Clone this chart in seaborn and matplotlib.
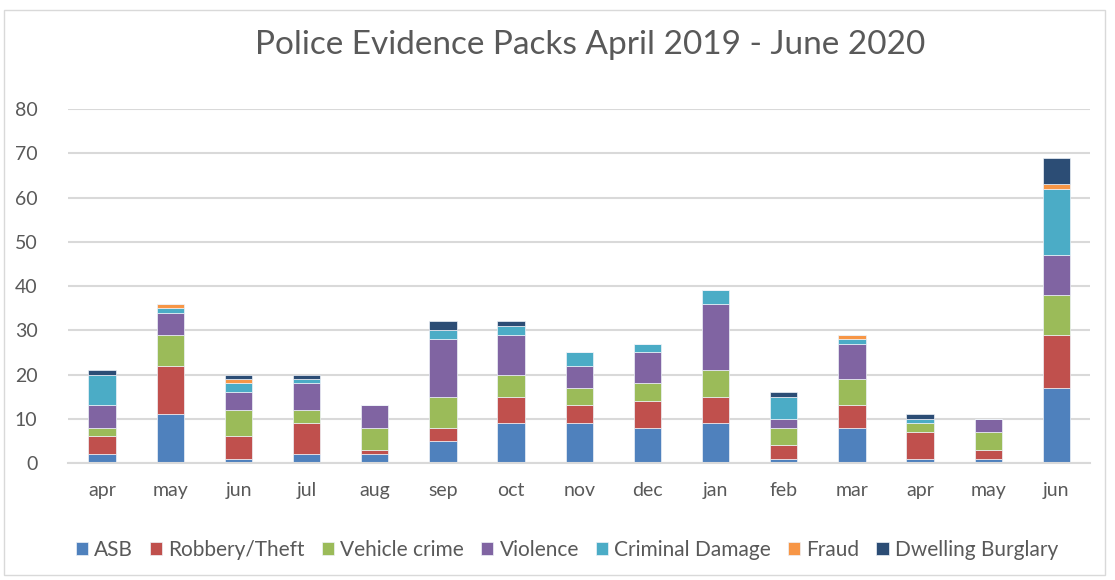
import numpy as np
import pandas as pd
import matplotlib
matplotlib.use("Agg")
import matplotlib.pyplot as plt
import seaborn as sns
from matplotlib.patches import Rectangle

# dati
months = ["apr", "may", "jun", "jul", "aug", "sep", "oct", "nov",
          "dec", "jan", "feb", "mar", "apr", "may", "jun"]
asb = [2, 11, 1, 2, 2, 5, 9, 9, 8, 9, 1, 8, 1, 1, 17]
robbery = [4, 11, 5, 7, 1, 3, 6, 4, 6, 6, 3, 5, 6, 2, 12]
vehicle = [2, 7, 6, 3, 5, 7, 5, 4, 4, 6, 4, 6, 2, 4, 9]
violence = [5, 5, 4, 6, 5, 13, 9, 5, 7, 15, 2, 8, 0, 3, 9]
criminal_damage = [7, 1, 2, 1, 0, 2, 2, 3, 2, 3, 5, 1, 1, 0, 15]
fraud = [0, 1, 1, 0, 0, 0, 0, 0, 0, 0, 0, 1, 0, 0, 1]
burglary = [1, 0, 1, 1, 0, 2, 1, 0, 0, 0, 1, 0, 1, 0, 6]

series = ["ASB", "Robbery/Theft", "Vehicle crime", "Violence",
          "Criminal Damage", "Fraud", "Dwelling Burglary"]
colors = ["#4F81BD", "#C0504D", "#9BBB59", "#8064A2",
          "#4BACC6", "#F79646", "#2C4D75"]

# tabella con chiave unica per mese
keys = [f"{m}{i}" for i, m in enumerate(months)]
values = [asb, robbery, vehicle, violence, criminal_damage, fraud, burglary]
df = pd.DataFrame({"key": keys})
for name, v in zip(series, values):
    df[name] = v

text_col = "#595959"
grid_col = "#D9D9D9"

sns.set_style("white")
plt.rcParams["font.family"] = ["Lato", "DejaVu Sans"]

fig = plt.figure(figsize=(11.15, 5.8), dpi=100)
ax = fig.add_axes([0.061, 0.2017, 0.917, 0.6103])

bottom = np.zeros(len(keys))
for name, col in zip(series, colors):
    sns.barplot(data=df, x="key", y=name, order=keys, color=col,
                saturation=1, width=0.4, bottom=bottom, label=name, ax=ax,
                edgecolor="#EEF2F8", linewidth=0.5)
    bottom += df[name].to_numpy()

ax.set_ylim(0, 80)
ax.set_yticks(range(0, 81, 10))
ax.yaxis.grid(True, color=grid_col, linewidth=1.5)
ax.set_axisbelow(True)
ax.set_xticks(range(len(keys)))
ax.set_xticklabels(months)
ax.set_xlabel("")
ax.set_ylabel("")
ax.tick_params(axis="both", length=0, labelsize=14, colors=text_col)
ax.tick_params(axis="x", pad=14)
ax.tick_params(axis="y", pad=22)
for s in ["top", "right", "left"]:
    ax.spines[s].set_visible(False)
ax.spines["bottom"].set_color(grid_col)
ax.spines["bottom"].set_linewidth(1.5)
ax.set_xlim(-0.5, len(keys) - 0.5)

fig.text(0.529, 0.922, "Police Evidence Packs April 2019 - June 2020",
         ha="center", va="center", fontsize=24, color=text_col)

handles, labels = ax.get_legend_handles_labels()
ax.legend(handles, labels, loc="center", bbox_to_anchor=(0.488, -0.245),
          ncol=7, frameon=False, fontsize=15, labelcolor=text_col,
          handlelength=0.6, handleheight=0.6, handletextpad=0.3,
          columnspacing=0.8)

fig.patches.append(Rectangle((0.004, 0.008), 0.987, 0.975,
                             transform=fig.transFigure, fill=False,
                             edgecolor=grid_col, linewidth=1))

fig.savefig("out.png", dpi=100)
